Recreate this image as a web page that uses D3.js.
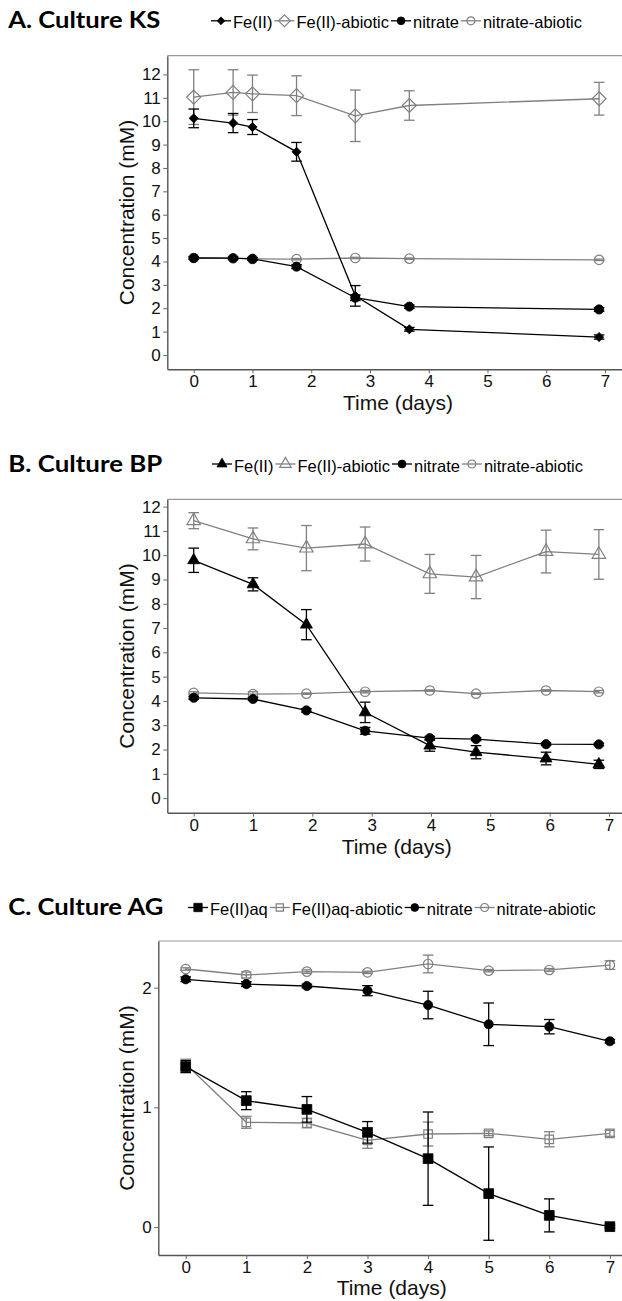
<!DOCTYPE html>
<html><head><meta charset="utf-8">
<script src="https://cdn.jsdelivr.net/npm/d3@7"></script>
<style>body{margin:0;background:#fff}svg{display:block}</style>
</head><body>
<svg id="c" width="622" height="1301"></svg>
<script>
// ---------- DATA ----------
const xTickValues = [0, 1, 2, 3, 4, 5, 6, 7];
const ksYTicks = [0, 1, 2, 3, 4, 5, 6, 7, 8, 9, 10, 11, 12];
const bpYTicks = [0, 1, 2, 3, 4, 5, 6, 7, 8, 9, 10, 11, 12];
const agYTicks = [0, 1, 2];

const ksLegend = ["Fe(II)", "Fe(II)-abiotic", "nitrate", "nitrate-abiotic"];
const bpLegend = ["Fe(II)", "Fe(II)-abiotic", "nitrate", "nitrate-abiotic"];
const agLegend = ["Fe(II)aq", "Fe(II)aq-abiotic", "nitrate", "nitrate-abiotic"];

const ksDays = [0, 0.67, 1, 1.75, 2.75, 3.67, 6.9];
const ksFe = [10.12, 9.92, 9.75, 8.69, 2.53, 1.10, 0.77];
const ksFeErr = [0.40, 0.41, 0.32, 0.40, 0.44, 0.08, 0.09];
const ksFeAbiotic = [11.03, 11.23, 11.17, 11.09, 10.23, 10.67, 10.96];
const ksFeAbioticErr = [1.17, 0.97, 0.80, 0.85, 1.10, 0.63, 0.70];
const ksNitrate = [4.15, 4.14, 4.11, 3.78, 2.45, 2.07, 1.95];
const ksNitrateErr = [0.06, 0.06, 0.06, 0.08, 0.12, 0.07, 0.08];
const ksNitrateAbiotic = [4.15, 4.14, 4.11, 4.10, 4.15, 4.12, 4.07];
const ksNitrateAbioticErr = [0.03, 0.03, 0.03, 0.03, 0.03, 0.03, 0.03];

const bpDays = [0, 1, 1.9, 2.89, 3.98, 4.76, 5.94, 6.83];
const bpFe = [9.79, 8.80, 7.14, 3.53, 2.16, 1.89, 1.63, 1.39];
const bpFeErr = [0.50, 0.27, 0.62, 0.42, 0.23, 0.27, 0.26, 0.17];
const bpFeAbiotic = [11.42, 10.67, 10.29, 10.46, 9.23, 9.10, 10.15, 10.03];
const bpFeAbioticErr = [0.33, 0.45, 0.93, 0.70, 0.80, 0.89, 0.88, 1.02];
const bpNitrate = [4.13, 4.08, 3.61, 2.77, 2.47, 2.43, 2.22, 2.21];
const bpNitrateErr = [0.06, 0.06, 0.07, 0.14, 0.07, 0.06, 0.05, 0.05];
const bpNitrateAbiotic = [4.33, 4.28, 4.30, 4.38, 4.43, 4.30, 4.43, 4.38];
const bpNitrateAbioticErr = [0.05, 0.10, 0.03, 0.05, 0.03, 0.03, 0.03, 0.05];

const agDays = [0, 1, 2, 3, 4, 5, 6, 7];
const agFe = [1.34, 1.056, 0.983, 0.791, 0.571, 0.279, 0.097, 0.003];
const agFeErr = [0.05, 0.075, 0.107, 0.09, 0.39, 0.39, 0.138, 0.012];
const agFeAbiotic = [1.362, 0.875, 0.869, 0.724, 0.777, 0.783, 0.733, 0.783];
const agFeAbioticErr = [0.04, 0.05, 0.04, 0.066, 0.10, 0.02, 0.063, 0.025];
const agNitrate = [2.07, 2.03, 2.014, 1.975, 1.855, 1.694, 1.674, 1.552];
const agNitrateErr = [0.02, 0.02, 0.015, 0.042, 0.115, 0.178, 0.06, 0.015];
const agNitrateAbiotic = [2.156, 2.106, 2.134, 2.128, 2.198, 2.142, 2.148, 2.189];
const agNitrateAbioticErr = [0.01, 0.025, 0.015, 0.01, 0.074, 0.01, 0.012, 0.036];

// ---------- LAYOUT ----------
const BLACK = "#000", GRAY = "#808080";
const svg = d3.select("#c");
svg.append("rect").attr("width", 622).attr("height", 1301).attr("fill", "#fff");

const panels = [
  { title: "A. Culture KS", titleW: 152, titleY: 28.3, legendX: 211, legend: ksLegend,
    left: 167.3, top: 55.7, bottom: 369.3, xDom: [-0.45, 7.29], yDom: [-0.61, 12.8], yTicks: ksYTicks,
    xLabelX: 398, xLabelY: 410, yLabelX: 133.5,
    shapes: ["diamondF", "diamondH", "circleF", "circleH"],
    days: ksDays,
    series: [[ksFeAbiotic, ksFeAbioticErr, 1], [ksNitrateAbiotic, ksNitrateAbioticErr, 3],
             [ksNitrate, ksNitrateErr, 2], [ksFe, ksFeErr, 0]] },
  { title: "B. Culture BP", titleW: 154, titleY: 471.5, legendX: 212, legend: bpLegend,
    left: 167.3, top: 499.3, bottom: 812.7, xDom: [-0.445, 7.22], yDom: [-0.6, 12.3], yTicks: bpYTicks,
    xLabelX: 396.7, xLabelY: 854, yLabelX: 133.5,
    shapes: ["triF", "triH", "circleF", "circleH"],
    days: bpDays,
    series: [[bpFeAbiotic, bpFeAbioticErr, 1], [bpNitrateAbiotic, bpNitrateAbioticErr, 3],
             [bpNitrate, bpNitrateErr, 2], [bpFe, bpFeErr, 0]] },
  { title: "C. Culture AG", titleW: 155, titleY: 915, legendX: 188, legend: agLegend,
    left: 158.3, top: 941, bottom: 1255, xDom: [-0.452, 7.2], yDom: [-0.234, 2.39], yTicks: agYTicks,
    xLabelX: 391.7, xLabelY: 1295, yLabelX: 133.5,
    shapes: ["squareF", "squareH", "circleF", "circleH"],
    days: agDays,
    series: [[agNitrateAbiotic, agNitrateAbioticErr, 3], [agFeAbiotic, agFeAbioticErr, 1],
             [agNitrate, agNitrateErr, 2], [agFe, agFeErr, 0]] }
];

function shapePath(kind, legend) {
  const k = legend ? 0.85 : 1;
  switch (kind) {
    case "diamondF": { const r = 4.6 * k; return `M0,${-r}L${r},0L0,${r}L${-r},0Z`; }
    case "diamondH": { const r = 7 * k; return `M0,${-r}L${r},0L0,${r}L${-r},0Z`; }
    case "triF": return d3.symbol(d3.symbolTriangle, 62 * k * k)();
    case "triH": return d3.symbol(d3.symbolTriangle, 78 * k * k)();
    case "circleF": return d3.symbol(d3.symbolCircle, 66 * k * k)();
    case "circleH": return d3.symbol(d3.symbolCircle, 70 * k * k)();
    case "squareF": return d3.symbol(d3.symbolSquare, 96 * k * k)();
    case "squareH": return d3.symbol(d3.symbolSquare, 72 * k * k)();
  }
}
function styleMarker(sel, kind, color) {
  const hollow = kind.endsWith("H");
  sel.attr("fill", hollow ? "none" : color)
     .attr("stroke", color)
     .attr("stroke-width", hollow ? 1.2 : 0.8);
}

panels.forEach(p => {
  const x = d3.scaleLinear().domain(p.xDom).range([p.left, 622]);
  const y = d3.scaleLinear().domain(p.yDom).range([p.bottom, p.top]);
  const g = svg.append("g");

  // title
  g.append("text").attr("x", 8.3).attr("y", p.titleY)
    .attr("font-family", "Lato, 'Open Sans', sans-serif").attr("font-weight", 700)
    .attr("font-size", 22.5).attr("textLength", p.titleW).attr("lengthAdjust", "spacingAndGlyphs")
    .attr("fill", "#000").text(p.title);

  // legend
  let lx = p.legendX;
  const ly = p.titleY;
  p.legend.forEach((lab, i) => {
    const color = (i % 2 === 0) ? BLACK : GRAY;
    g.append("line").attr("x1", lx).attr("x2", lx + 20).attr("y1", ly - 7.5).attr("y2", ly - 7.5)
      .attr("stroke", color).attr("stroke-width", 1.3);
    g.append("path").attr("d", shapePath(p.shapes[i], true))
      .attr("transform", `translate(${lx + 10},${ly - 7.5})`)
      .call(styleMarker, p.shapes[i], color);
    const t = g.append("text").attr("x", lx + 22).attr("y", ly)
      .attr("font-family", "'Liberation Sans', Arial, sans-serif").attr("font-size", 16.5)
      .attr("fill", "#000").text(lab);
    lx += 22 + t.node().getComputedTextLength() + 2;
  });

  // top border
  g.append("line").attr("x1", p.left).attr("x2", 622).attr("y1", p.top).attr("y2", p.top)
    .attr("stroke", "#999").attr("stroke-width", 1.2);

  // axes
  const fontAxis = sel => sel.selectAll("text")
    .attr("font-family", "'Liberation Sans', Arial, sans-serif").attr("font-size", 17).attr("fill", "#111");
  const ax = g.append("g").attr("transform", `translate(0,${p.bottom})`)
    .call(d3.axisBottom(x).tickValues(xTickValues).tickFormat(d3.format("d")).tickSize(4).tickSizeOuter(0).tickPadding(2))
    .call(fontAxis);
  const ay = g.append("g").attr("transform", `translate(${p.left},0)`)
    .call(d3.axisLeft(y).tickValues(p.yTicks).tickFormat(d3.format("d")).tickSize(4).tickSizeOuter(0).tickPadding(2.5))
    .call(fontAxis);
  [ax, ay].forEach(a => {
    a.select(".domain").attr("stroke", "#555").attr("stroke-width", 1.4);
    a.selectAll(".tick line").attr("stroke", "#666").attr("stroke-width", 1);
  });

  // axis labels
  g.append("text").attr("x", p.xLabelX).attr("y", p.xLabelY).attr("text-anchor", "middle")
    .attr("font-family", "'Liberation Sans', Arial, sans-serif").attr("font-size", 21)
    .attr("fill", "#111").text("Time (days)");
  g.append("text").attr("transform", `translate(${p.yLabelX},${(p.top + p.bottom) / 2}) rotate(-90)`)
    .attr("text-anchor", "middle")
    .attr("font-family", "'Liberation Sans', Arial, sans-serif").attr("font-size", 21)
    .attr("fill", "#111").text("Concentration (mM)");

  // series
  p.series.forEach(([vals, errs, idx]) => {
    const color = (idx % 2 === 0) ? BLACK : GRAY;
    const pts = p.days.map((d, i) => ({ d, v: vals[i], e: errs[i] }));
    const sg = g.append("g");
    sg.append("path").datum(pts)
      .attr("d", d3.line().x(q => x(q.d)).y(q => y(q.v)))
      .attr("fill", "none").attr("stroke", color).attr("stroke-width", 1.3);
    const eb = sg.selectAll("g.eb").data(pts).join("g").attr("class", "eb");
    eb.append("line").attr("x1", q => x(q.d)).attr("x2", q => x(q.d))
      .attr("y1", q => y(q.v - q.e)).attr("y2", q => y(q.v + q.e))
      .attr("stroke", color).attr("stroke-width", 1.3);
    [1, -1].forEach(s => {
      eb.append("line").attr("x1", q => x(q.d) - 5.3).attr("x2", q => x(q.d) + 5.3)
        .attr("y1", q => y(q.v + s * q.e)).attr("y2", q => y(q.v + s * q.e))
        .attr("stroke", color).attr("stroke-width", 1.3);
    });
    sg.selectAll("path.m").data(pts).join("path").attr("class", "m")
      .attr("d", shapePath(p.shapes[idx], false))
      .attr("transform", q => `translate(${x(q.d)},${y(q.v)})`)
      .call(styleMarker, p.shapes[idx], color);
  });
});
</script>
</body></html>
